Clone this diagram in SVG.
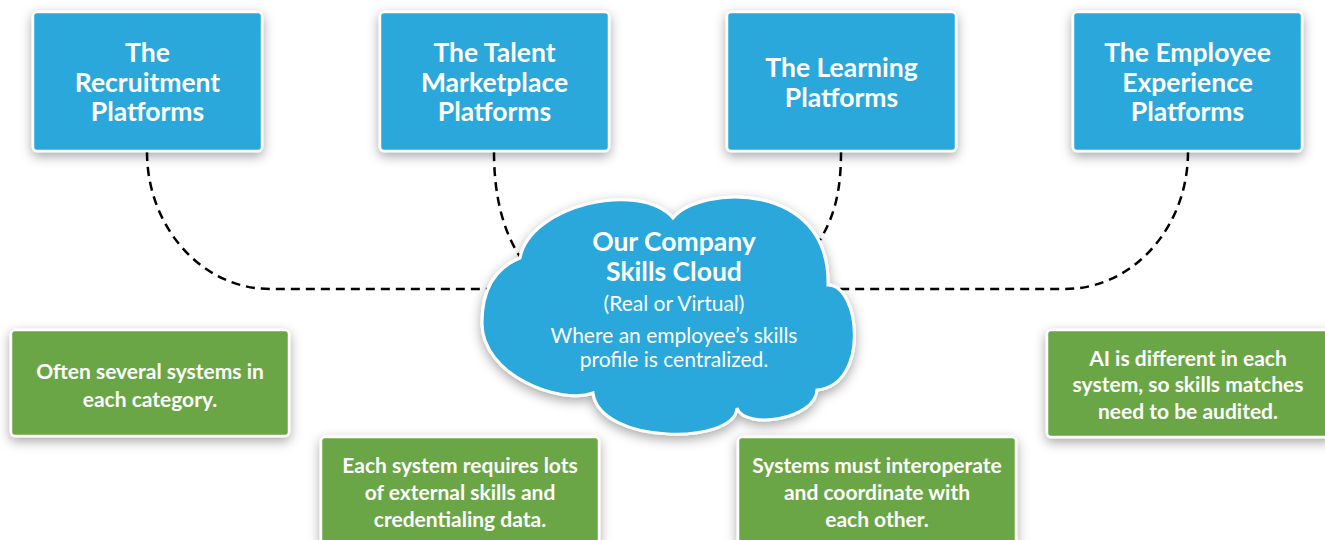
<svg xmlns="http://www.w3.org/2000/svg" width="1325" height="540" viewBox="0 0 1325 540">
<defs>
<filter id="sh" x="-20%" y="-20%" width="140%" height="150%">
<feDropShadow dx="0" dy="4" stdDeviation="6" flood-color="#000" flood-opacity="0.35"/>
</filter>
<style>
.blue{fill:#2ba8db;stroke:#fff;stroke-width:2.5;filter:url(#sh)}
.green{fill:#6ba644;stroke:#fff;stroke-width:2.5;filter:url(#sh)}
.bt{font-family:Lato,"Liberation Sans",sans-serif;font-weight:bold;font-size:26.5px;fill:#fff;text-anchor:middle}
.gt{font-family:Lato,"Liberation Sans",sans-serif;font-weight:bold;font-size:21px;fill:#fff;text-anchor:middle}
.ct{font-family:Lato,"Liberation Sans",sans-serif;fill:#fff;text-anchor:middle}
.conn{fill:none;stroke:#000;stroke-width:2.5;stroke-dasharray:9 6}
</style>
</defs>
<rect width="1325" height="540" fill="#fff"/>
<g id="connectors">
<path class="conn" d="M147,152 C147,227 202,289 270,289 L500,289"/>
<path class="conn" d="M494,152 C494,200 505,235 521,258"/>
<path class="conn" d="M841,152 C841,190 835,215 820,240"/>
<path class="conn" d="M1188,152 C1188,227 1133,289 1065,289 L820,289"/>
</g>
<g id="recruitment">
<rect class="blue" x="33" y="12" width="229" height="139" rx="4"/>
<text class="bt" x="147.5" y="62">The</text>
<text class="bt" x="147.5" y="91.5">Recruitment</text>
<text class="bt" x="147.5" y="121">Platforms</text>
</g>
<g id="talent">
<rect class="blue" x="380" y="12" width="229" height="139" rx="4"/>
<text class="bt" x="494.5" y="62">The Talent</text>
<text class="bt" x="494.5" y="91.5">Marketplace</text>
<text class="bt" x="494.5" y="121">Platforms</text>
</g>
<g id="learning">
<rect class="blue" x="727" y="12" width="229" height="139" rx="4"/>
<text class="bt" x="841.5" y="77">The Learning</text>
<text class="bt" x="841.5" y="106.5">Platforms</text>
</g>
<g id="employee">
<rect class="blue" x="1073" y="12" width="229" height="139" rx="4"/>
<text class="bt" x="1187.5" y="62">The Employee</text>
<text class="bt" x="1187.5" y="91.5">Experience</text>
<text class="bt" x="1187.5" y="121">Platforms</text>
</g>
<g id="cloud">
<path fill="#2ba8db" stroke="#fff" stroke-width="3" filter="url(#sh)" d="M520,258 C530,205 640,180 673,218 C700,185 830,180 828,285 C860,285 870,385 817,390 C815,420 745,430 737,408 C735,445 600,445 593,393 C560,405 482,375 482,323 C482,290 495,268 520,258 Z"/>
<text class="ct" x="674" y="251" font-size="26.5" font-weight="bold">Our Company</text>
<text class="ct" x="674" y="281" font-size="26.5" font-weight="bold">Skills Cloud</text>
<text class="ct" x="674" y="311" font-size="21">(Real or Virtual)</text>
<text class="ct" x="674" y="343" font-size="21">Where an employee’s skills</text>
<text class="ct" x="674" y="367" font-size="21">profile is centralized.</text>
</g>
<g id="note-several">
<rect class="green" x="11" y="330" width="278" height="106" rx="4"/>
<text class="gt" x="150" y="379">Often several systems in</text>
<text class="gt" x="150" y="407">each category.</text>
</g>
<g id="note-external">
<rect class="green" x="321" y="437" width="278" height="110" rx="4"/>
<text class="gt" x="460" y="473">Each system requires lots</text>
<text class="gt" x="460" y="500">of external skills and</text>
<text class="gt" x="460" y="527">credentialing data.</text>
</g>
<g id="note-interoperate">
<rect class="green" x="738" y="437" width="278" height="110" rx="4"/>
<text class="gt" x="877" y="473">Systems must interoperate</text>
<text class="gt" x="877" y="500">and coordinate with</text>
<text class="gt" x="877" y="527">each other.</text>
</g>
<g id="note-ai">
<rect class="green" x="1047" y="330" width="285" height="107" rx="4"/>
<text class="gt" x="1188" y="366">AI is different in each</text>
<text class="gt" x="1188" y="392">system, so skills matches</text>
<text class="gt" x="1188" y="419">need to be audited.</text>
</g>
</svg>
